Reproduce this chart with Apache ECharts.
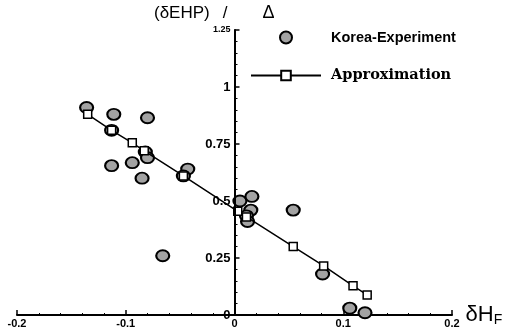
<!DOCTYPE html>
<html>
<head>
<meta charset="utf-8">
<script src="https://cdn.jsdelivr.net/npm/echarts@6/dist/echarts.min.js"></script>
<style>
  html, body { margin: 0; padding: 0; background: #fff; }
  #chart { width: 529px; height: 335px; }
</style>
</head>
<body>
<div id="chart"></div>
<script>
// Measured points (Korea experiment)
const expX = [-0.136, -0.111, -0.080, -0.113, -0.082, -0.080, -0.113, -0.094, -0.085,
              -0.043, -0.047, -0.066, 0.005, 0.016, 0.015, 0.011, 0.012, 0.054, 0.081, 0.106, 0.120];
const expY = [0.91, 0.88, 0.865, 0.81, 0.715, 0.69, 0.655, 0.668, 0.60,
              0.64, 0.61, 0.26, 0.50, 0.52, 0.46, 0.435, 0.41, 0.46, 0.18, 0.03, 0.01];

// Linear approximation nodes
const apX = [-0.135, -0.113, -0.094, -0.083, -0.047, 0.003, 0.011, 0.054, 0.082, 0.109, 0.122];
const apY = [0.88, 0.81, 0.755, 0.72, 0.61, 0.455, 0.43, 0.30, 0.215, 0.128, 0.088];

// Axis ranges and ticks
const xTicks = [-0.2, -0.1, 0, 0.1, 0.2];
const yTicks = [0, 0.25, 0.5, 0.75, 1, 1.25];

const seriesNames = ['Korea-Experiment', 'Approximation'];

const chart = echarts.init(document.getElementById('chart'), null, { renderer: 'canvas' });

const pairs = (xs, ys) => xs.map((x, i) => [x, ys[i]]);
const SANS = 'Liberation Sans, Arial, sans-serif';
const GRID = { left: 17, right: 77, top: 30, bottom: 20 };

const xMin = xTicks[0];
const xMax = xTicks[xTicks.length - 1];
const yMin = yTicks[0];
const yMax = yTicks[yTicks.length - 1];

// Pixel column of x = 0 inside the main grid; the vertical axis starts there
const plotW = chart.getWidth() - GRID.left - GRID.right;
const zeroPx = GRID.left + plotW * (0 - xMin) / (xMax - xMin);

chart.setOption({
  animation: false,
  backgroundColor: '#ffffff',
  title: {
    left: 154,
    top: 4,
    padding: 0,
    text: '{t|(δEHP)}{g1|}{t|/}{g2|}{d|Δ}',
    textStyle: {
      fontWeight: 'normal',
      rich: {
        t: { fontFamily: SANS, fontSize: 17, fontWeight: 'normal', color: '#000' },
        d: { fontFamily: SANS, fontSize: 18, fontWeight: 'normal', color: '#000' },
        g1: { width: 13 },
        g2: { width: 35 }
      }
    }
  },
  legend: {
    orient: 'vertical',
    left: 250,
    top: 30,
    padding: 0,
    itemWidth: 70,
    itemHeight: 12,
    itemGap: 23,
    data: seriesNames,
    formatter: name => name === seriesNames[0] ? '{a|' + name + '}' : '{b|' + name + '}',
    textStyle: {
      rich: {
        a: { fontFamily: SANS, fontWeight: 'bold', fontSize: 14.5, color: '#000', padding: [0, 0, 0, 5] },
        b: { fontFamily: 'DejaVu Serif, serif', fontWeight: 'bold', fontSize: 14.5, color: '#000', padding: [0, 0, 0, 5] }
      }
    }
  },
  grid: [
    // main plotting area
    Object.assign({ containLabel: false, outerBoundsMode: 'none' }, GRID),
    // right half, whose left edge carries the vertical axis at x = 0
    Object.assign({ containLabel: false, outerBoundsMode: 'none' }, GRID, { left: zeroPx })
  ],
  xAxis: [
    {
      gridIndex: 0,
      type: 'value',
      min: xMin,
      max: xMax,
      interval: 0.1,
      name: '{a|δH}{b|F}',
      nameLocation: 'end',
      nameGap: 12,
      nameTextStyle: {
        rich: {
          a: { fontFamily: SANS, fontSize: 22, color: '#000' },
          b: { fontFamily: SANS, fontSize: 14, color: '#000', padding: [10, 0, 0, 0] }
        }
      },
      axisLine: { show: true, onZero: true, lineStyle: { color: '#000', width: 2 } },
      axisTick: { show: true, inside: true, length: 5, lineStyle: { color: '#000', width: 1.5 } },
      minorTick: { show: true, splitNumber: 5, length: 2, lineStyle: { color: '#000', width: 1 } },
      splitLine: { show: false },
      axisLabel: {
        margin: 3,
        fontFamily: SANS,
        fontWeight: 'bold',
        fontSize: 11,
        color: '#000',
        formatter: v => (Math.abs(v) < 1e-9 ? '0' : v.toFixed(1))
      }
    },
    {
      gridIndex: 1,
      type: 'value',
      min: 0,
      max: xMax,
      axisLine: { show: false },
      axisTick: { show: false },
      axisLabel: { show: false },
      splitLine: { show: false }
    }
  ],
  yAxis: [
    { gridIndex: 0, type: 'value', min: yMin, max: yMax, interval: 0.25, show: false },
    {
      gridIndex: 1,
      type: 'value',
      min: yMin,
      max: yMax,
      interval: 0.25,
      position: 'left',
      axisLine: { show: true, onZero: true, lineStyle: { color: '#000', width: 2 } },
      axisTick: { show: true, inside: true, length: 5, lineStyle: { color: '#000', width: 1.5 } },
      minorTick: { show: true, splitNumber: 5, length: 3, lineStyle: { color: '#000', width: 1 } },
      splitLine: { show: false },
      axisLabel: {
        show: true,
        margin: 4,
        color: '#000',
        formatter: v => {
          const s = String(+v.toFixed(2));
          return v >= 1.2 ? '{s|' + s + '}' : '{n|' + s + '}';
        },
        rich: {
          n: { fontFamily: SANS, fontWeight: 'bold', fontSize: 13, color: '#000' },
          s: { fontFamily: SANS, fontWeight: 'bold', fontSize: 9, color: '#000' }
        }
      }
    }
  ],
  series: [
    {
      name: seriesNames[0],
      type: 'scatter',
      xAxisIndex: 0,
      yAxisIndex: 0,
      z: 2,
      symbol: 'circle',
      symbolSize: [13, 11],
      itemStyle: { color: '#a3a3a3', borderColor: '#000', borderWidth: 2, opacity: 1 },
      // vertical axis line along x = 0
      markLine: {
        silent: true,
        symbol: 'none',
        label: { show: false },
        lineStyle: { color: '#000', width: 2, type: 'solid' },
        data: [[{ coord: [0, yMin] }, { coord: [0, yMax] }]]
      },
      data: pairs(expX, expY)
    },
    {
      name: seriesNames[1],
      type: 'line',
      xAxisIndex: 0,
      yAxisIndex: 0,
      z: 3,
      symbol: 'rect',
      symbolSize: 8,
      showAllSymbol: true,
      lineStyle: { color: '#000', width: 1.5 },
      itemStyle: { color: '#fff', borderColor: '#000', borderWidth: 1.5 },
      data: pairs(apX, apY)
    }
  ]
});
</script>
</body>
</html>
